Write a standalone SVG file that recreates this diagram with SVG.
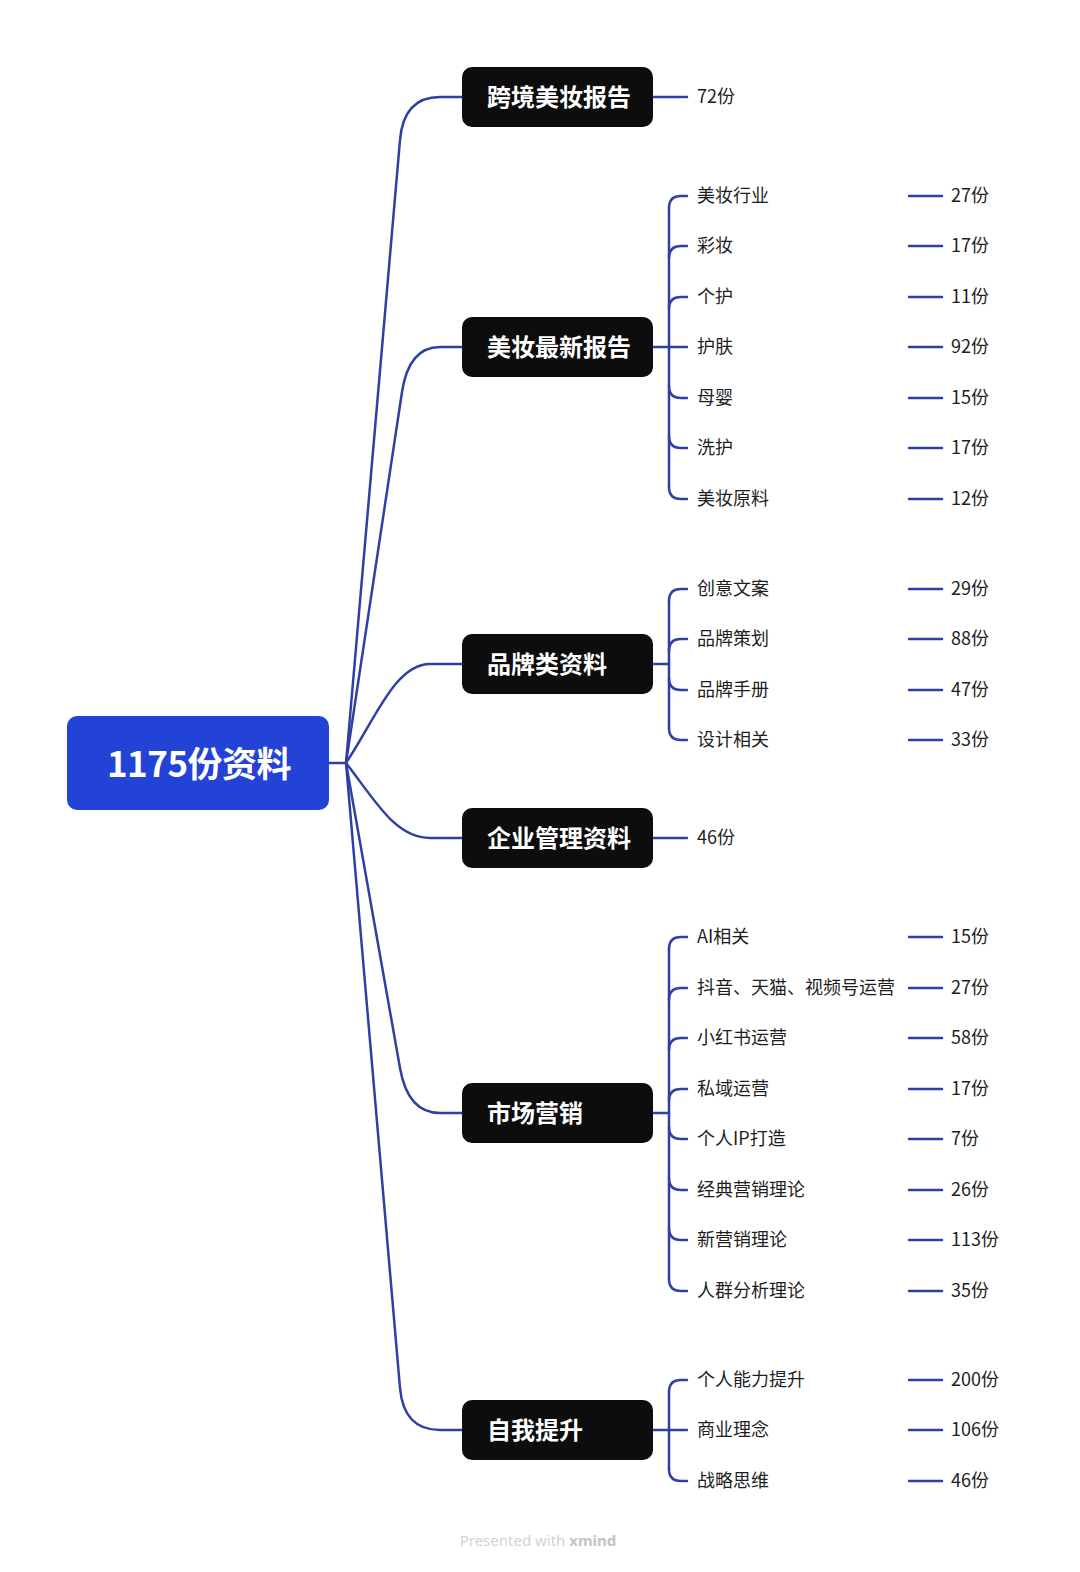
<svg xmlns="http://www.w3.org/2000/svg" width="1080" height="1572" viewBox="0 0 1080 1572">
<style>
.c{fill:none;stroke:#2F3FA3;stroke-width:2.5;stroke-linecap:round}
.b{fill:#0d0d0d}
.bt{fill:#fff;font-family:"Noto Sans CJK SC","Noto Sans",sans-serif;font-weight:700;font-size:24px}
.t{fill:#1e1e1e;font-family:"Noto Sans CJK SC","Noto Sans",sans-serif;font-size:18px}
</style>
<rect width="1080" height="1572" fill="#fff"/>
<g id="connectors">
<path class="c" d="M329,763 L346,763"/>
<path class="c" d="M346,763 L400,140 Q403.7,97 440,97 L462,97"/>
<path class="c" d="M346,763 L402,392 Q408.8,347 440,347 L462,347"/>
<path class="c" d="M346,763 C375,720 395,664 430,664 L462,664"/>
<path class="c" d="M346,763 C375,800 395,838 430,838 L462,838"/>
<path class="c" d="M346,763 L400,1068 Q407.8,1113 440,1113 L462,1113"/>
<path class="c" d="M346,763 L400,1388 Q403.6,1430 440,1430 L462,1430"/>
<path class="c" d="M653,97 L687,97"/>
<path class="c" d="M653,838 L687,838"/>
<!-- 美妆最新报告 -->
<path class="c" d="M653,347 L687,347"/>
<path class="c" d="M669,208 L669,487"/>
<path class="c" d="M669,208 Q669,196 681,196 L687,196"/>
<path class="c" d="M669,258 Q669,246 681,246 L687,246"/>
<path class="c" d="M669,309 Q669,297 681,297 L687,297"/>
<path class="c" d="M669,386 Q669,398 681,398 L687,398"/>
<path class="c" d="M669,436 Q669,448 681,448 L687,448"/>
<path class="c" d="M669,487 Q669,499 681,499 L687,499"/>
<!-- 品牌类资料 -->
<path class="c" d="M653,664 L669,664"/>
<path class="c" d="M669,601 L669,728"/>
<path class="c" d="M669,601 Q669,589 681,589 L687,589"/>
<path class="c" d="M669,651 Q669,639 681,639 L687,639"/>
<path class="c" d="M669,678 Q669,690 681,690 L687,690"/>
<path class="c" d="M669,728 Q669,740 681,740 L687,740"/>
<!-- 市场营销 -->
<path class="c" d="M653,1113 L669,1113"/>
<path class="c" d="M669,949 L669,1279"/>
<path class="c" d="M669,949 Q669,937 681,937 L687,937"/>
<path class="c" d="M669,1000 Q669,988 681,988 L687,988"/>
<path class="c" d="M669,1050 Q669,1038 681,1038 L687,1038"/>
<path class="c" d="M669,1101 Q669,1089 681,1089 L687,1089"/>
<path class="c" d="M669,1127 Q669,1139 681,1139 L687,1139"/>
<path class="c" d="M669,1178 Q669,1190 681,1190 L687,1190"/>
<path class="c" d="M669,1228 Q669,1240 681,1240 L687,1240"/>
<path class="c" d="M669,1279 Q669,1291 681,1291 L687,1291"/>
<!-- 自我提升 -->
<path class="c" d="M653,1430 L687,1430"/>
<path class="c" d="M669,1392 L669,1469"/>
<path class="c" d="M669,1392 Q669,1380 681,1380 L687,1380"/>
<path class="c" d="M669,1469 Q669,1481 681,1481 L687,1481"/>
<!-- count lines -->
<path class="c" d="M909,196 H942 M909,246 H942 M909,297 H942 M909,347 H942 M909,398 H942 M909,448 H942 M909,499 H942"/>
<path class="c" d="M909,589 H942 M909,639 H942 M909,690 H942 M909,740 H942"/>
<path class="c" d="M909,937 H942 M909,988 H942 M909,1038 H942 M909,1089 H942 M909,1139 H942 M909,1190 H942 M909,1240 H942 M909,1291 H942"/>
<path class="c" d="M909,1380 H942 M909,1430 H942 M909,1481 H942"/>
</g>
<g id="root">
<rect x="67" y="716" width="262" height="94" rx="10" fill="#2342D6"/>
<text x="199" y="777" text-anchor="middle" fill="#fff" font-family="Noto Sans CJK SC, Noto Sans, sans-serif" font-weight="700" font-size="35" letter-spacing="-0.5">1175份资料</text>
</g>
<g id="n1"><rect class="b" x="462" y="67" width="191" height="60" rx="10"/><text class="bt" x="487" y="106">跨境美妆报告</text></g>
<g id="n2"><rect class="b" x="462" y="317" width="191" height="60" rx="10"/><text class="bt" x="487" y="356">美妆最新报告</text></g>
<g id="n3"><rect class="b" x="462" y="634" width="191" height="60" rx="10"/><text class="bt" x="487" y="673">品牌类资料</text></g>
<g id="n4"><rect class="b" x="462" y="808" width="191" height="60" rx="10"/><text class="bt" x="487" y="847">企业管理资料</text></g>
<g id="n5"><rect class="b" x="462" y="1083" width="191" height="60" rx="10"/><text class="bt" x="487" y="1122">市场营销</text></g>
<g id="n6"><rect class="b" x="462" y="1400" width="191" height="60" rx="10"/><text class="bt" x="487" y="1439">自我提升</text></g>
<g id="labels">
<text class="t" x="697" y="103">72份</text>
<text class="t" x="697" y="844">46份</text>
<text class="t" x="697" y="202">美妆行业</text><text class="t" x="951" y="202">27份</text>
<text class="t" x="697" y="252">彩妆</text><text class="t" x="951" y="252">17份</text>
<text class="t" x="697" y="303">个护</text><text class="t" x="951" y="303">11份</text>
<text class="t" x="697" y="353">护肤</text><text class="t" x="951" y="353">92份</text>
<text class="t" x="697" y="404">母婴</text><text class="t" x="951" y="404">15份</text>
<text class="t" x="697" y="454">洗护</text><text class="t" x="951" y="454">17份</text>
<text class="t" x="697" y="505">美妆原料</text><text class="t" x="951" y="505">12份</text>
<text class="t" x="697" y="595">创意文案</text><text class="t" x="951" y="595">29份</text>
<text class="t" x="697" y="645">品牌策划</text><text class="t" x="951" y="645">88份</text>
<text class="t" x="697" y="696">品牌手册</text><text class="t" x="951" y="696">47份</text>
<text class="t" x="697" y="746">设计相关</text><text class="t" x="951" y="746">33份</text>
<text class="t" x="697" y="943">AI相关</text><text class="t" x="951" y="943">15份</text>
<text class="t" x="697" y="994">抖音、天猫、视频号运营</text><text class="t" x="951" y="994">27份</text>
<text class="t" x="697" y="1044">小红书运营</text><text class="t" x="951" y="1044">58份</text>
<text class="t" x="697" y="1095">私域运营</text><text class="t" x="951" y="1095">17份</text>
<text class="t" x="697" y="1145">个人IP打造</text><text class="t" x="951" y="1145">7份</text>
<text class="t" x="697" y="1196">经典营销理论</text><text class="t" x="951" y="1196">26份</text>
<text class="t" x="697" y="1246">新营销理论</text><text class="t" x="951" y="1246">113份</text>
<text class="t" x="697" y="1297">人群分析理论</text><text class="t" x="951" y="1297">35份</text>
<text class="t" x="697" y="1386">个人能力提升</text><text class="t" x="951" y="1386">200份</text>
<text class="t" x="697" y="1436">商业理念</text><text class="t" x="951" y="1436">106份</text>
<text class="t" x="697" y="1487">战略思维</text><text class="t" x="951" y="1487">46份</text>
</g>
<text x="538" y="1546" text-anchor="middle" fill="#d2d2d2" font-family="Noto Sans, sans-serif" font-size="15">Presented with <tspan font-weight="700" fill="#c4c4c4">xmind</tspan></text>
</svg>
